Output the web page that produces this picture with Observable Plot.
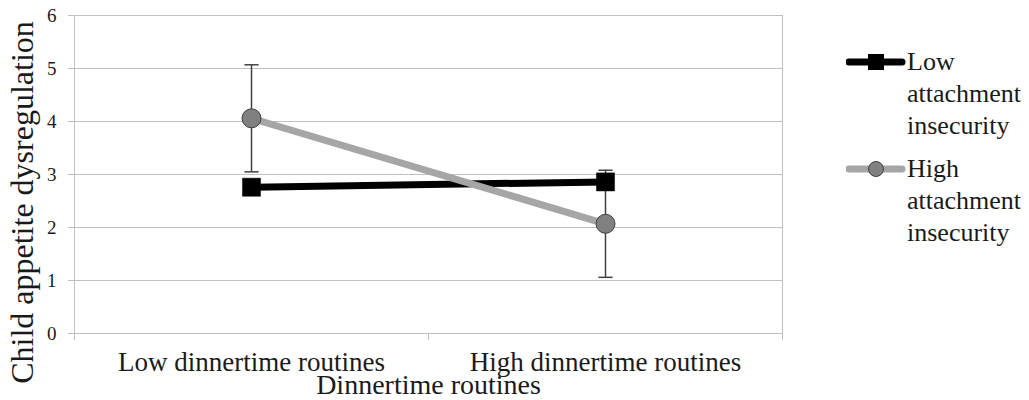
<!DOCTYPE html>
<html>
<head>
<meta charset="utf-8">
<script src="https://cdn.jsdelivr.net/npm/d3@7"></script>
<script src="https://cdn.jsdelivr.net/npm/@observablehq/plot@0.6"></script>
<style>
  body { margin: 0; background: #fff; }
  #wrap { position: relative; width: 1029px; height: 400px; font-family: "Liberation Serif", "Times New Roman", serif; color: #1a1a1a; }
  #legend { position: absolute; left: 846px; top: 0; }
  .entry { position: absolute; left: 0; width: 183px; }
  .entry svg { position: absolute; left: 0; }
  .entry .lbl { position: absolute; left: 61px; font-size: 26px; line-height: 32px; white-space: nowrap; font-family: "Liberation Serif", "Times New Roman", serif; }
</style>
</head>
<body>
<div id="wrap"></div>
<script>
// ---- data ----
const categories = ["Low dinnertime routines", "High dinnertime routines"];
const seriesNames = ["Low attachment insecurity", "High attachment insecurity"];
const lowInsecurity = [2.76, 2.86];
const highInsecurity = [4.06, 2.07];
const highInsecurityError = [1.01, 1.01];
const yTicks = [0, 1, 2, 3, 4, 5, 6];
const xTitle = "Dinnertime routines";
const yTitle = "Child appetite dysregulation";
const legendLines = [["Low", "attachment", "insecurity"], ["High", "attachment", "insecurity"]];

// ---- tables ----
const lowRows = categories.map((c, i) => ({cat: c, pos: i + 0.5, value: lowInsecurity[i]}));
const highRows = categories.map((c, i) => ({cat: c, pos: i + 0.5, value: highInsecurity[i], err: highInsecurityError[i]}));

const capSymbol = {
  draw(context, size) {
    const w = Math.sqrt(size);
    context.moveTo(-w / 2, 0);
    context.lineTo(w / 2, 0);
  }
};

const gridColor = "#c0c0c0";
const textColor = "#1a1a1a";
const serif = "'Liberation Serif', 'Times New Roman', serif";

const chart = Plot.plot({
  width: 1029,
  height: 400,
  marginLeft: 74,
  marginRight: 247,
  marginTop: 15,
  marginBottom: 67,
  style: {fontFamily: serif, background: "transparent", color: textColor, overflow: "visible"},
  x: {domain: [0, categories.length], axis: null},
  y: {domain: [0, 6], axis: null},
  marks: [
    Plot.ruleY(yTicks, {stroke: gridColor, strokeWidth: 1}),
    Plot.ruleX([0, categories.length], {stroke: gridColor, strokeWidth: 1}),
    Plot.axisY({ticks: yTicks, tickSize: 6, tickPadding: 12, stroke: gridColor, fill: textColor, fontSize: 19, tickFormat: d3.format("d"), label: null}),
    Plot.axisX({ticks: d3.range(categories.length + 1), tickSize: 7, stroke: gridColor, tickFormat: () => "", label: null}),
    Plot.axisX({ticks: categories.map((c, i) => i + 0.5), tickSize: 0, tickPadding: 18, fill: textColor, fontSize: 27, tickFormat: d => categories[Math.floor(d)], label: null}),
    Plot.text([xTitle], {frameAnchor: "bottom", dy: 52, lineAnchor: "middle", textAnchor: "middle", fontSize: 28, fill: textColor}),
    Plot.text([yTitle], {frameAnchor: "left", dx: -52, dy: 28, rotate: -90, lineAnchor: "middle", textAnchor: "middle", fontSize: 32, fill: textColor}),
    // error bars
    Plot.ruleX(highRows, {x: "pos", y1: d => d.value - d.err, y2: d => d.value + d.err, stroke: "#404040", strokeWidth: 1.5}),
    Plot.dot(highRows, {x: "pos", y: d => d.value - d.err, symbol: capSymbol, r: 8, stroke: "#404040", strokeWidth: 1.5, fill: "none"}),
    Plot.dot(highRows, {x: "pos", y: d => d.value + d.err, symbol: capSymbol, r: 8, stroke: "#404040", strokeWidth: 1.5, fill: "none"}),
    // lines
    Plot.line(lowRows, {x: "pos", y: "value", stroke: "#000000", strokeWidth: 7}),
    Plot.line(highRows, {x: "pos", y: "value", stroke: "#a6a6a6", strokeWidth: 7}),
    // markers
    Plot.dot(lowRows, {x: "pos", y: "value", symbol: "square", r: 10.2, fill: "#000000", stroke: "#000000", strokeWidth: 0.5}),
    Plot.dot(highRows, {x: "pos", y: "value", r: 9.5, fill: "#808080", stroke: "#404040", strokeWidth: 1})
  ]
});

const wrap = document.getElementById("wrap");
wrap.appendChild(chart);

// ---- legend (HTML, to the right of the chart) ----
const legend = document.createElement("div");
legend.id = "legend";
const entryTops = [46, 153];
const swatches = [
  `<svg width="60" height="32"><line x1="3" y1="16" x2="56" y2="16" stroke="#000" stroke-width="7" stroke-linecap="round"/><rect x="22" y="8" width="16" height="16" fill="#000"/></svg>`,
  `<svg width="60" height="32"><line x1="3" y1="16" x2="56" y2="16" stroke="#a6a6a6" stroke-width="7" stroke-linecap="round"/><circle cx="30" cy="16" r="7.5" fill="#808080" stroke="#404040" stroke-width="1"/></svg>`
];
seriesNames.forEach((name, i) => {
  const e = document.createElement("div");
  e.className = "entry";
  e.style.top = entryTops[i] + "px";
  e.setAttribute("aria-label", name);
  e.innerHTML = swatches[i] + `<div class="lbl">${legendLines[i].join("<br>")}</div>`;
  legend.appendChild(e);
});
wrap.appendChild(legend);
</script>
</body>
</html>
